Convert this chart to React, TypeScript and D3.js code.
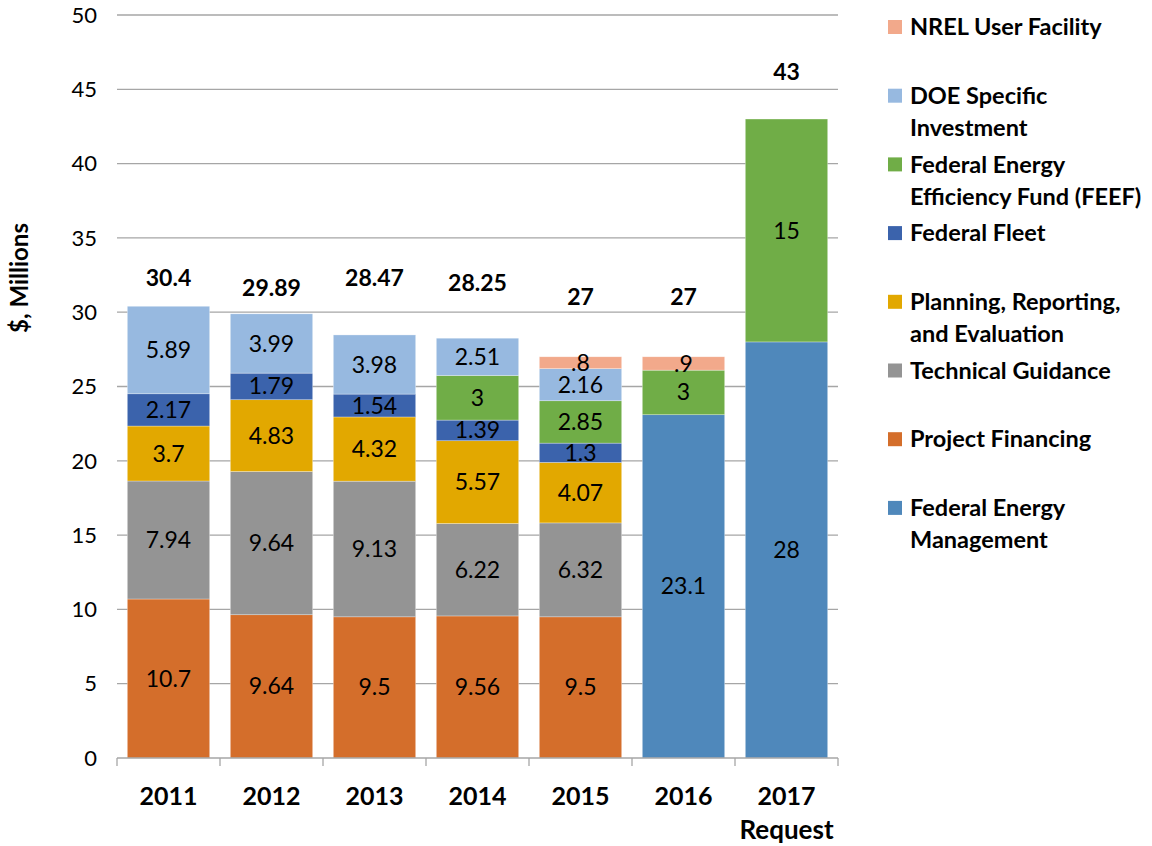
import React from 'react'
import * as d3 from 'd3'

const years = ['2011', '2012', '2013', '2014', '2015', '2016', '2017']

// stack order, bottom to top
const seriesNames = [
  'Federal Energy Management',
  'Project Financing',
  'Technical Guidance',
  'Planning, Reporting, and Evaluation',
  'Federal Fleet',
  'Federal Energy Efficiency Fund (FEEF)',
  'DOE Specific Investment',
  'NREL User Facility'
]
const seriesColors = ['#4f88bb', '#d46e2b', '#949494', '#e2a800', '#3b63ac', '#70ad47', '#97b9e0', '#f2a98b']

const fedEnergyMgmt = [0, 0, 0, 0, 0, 23.1, 28]
const projectFinancing = [10.7, 9.64, 9.5, 9.56, 9.5, 0, 0]
const technicalGuidance = [7.94, 9.64, 9.13, 6.22, 6.32, 0, 0]
const planning = [3.7, 4.83, 4.32, 5.57, 4.07, 0, 0]
const federalFleet = [2.17, 1.79, 1.54, 1.39, 1.3, 0, 0]
const feef = [0, 0, 0, 3, 2.85, 3, 15]
const doeSpecific = [5.89, 3.99, 3.98, 2.51, 2.16, 0, 0]
const nrel = [0, 0, 0, 0, 0.8, 0.9, 0]

// level (in $M) where the total labels sit
const totalLabelLevel = [32.3, 31.6, 32.3, 32.0, 31.0, 31.0, 46.2]

const yTicks = [0, 5, 10, 15, 20, 25, 30, 35, 40, 45, 50]

// legend, top to bottom, with line breaks
const legendLines = [
  ['NREL User Facility'],
  ['DOE Specific', 'Investment'],
  ['Federal Energy', 'Efficiency Fund (FEEF)'],
  ['Federal Fleet'],
  ['Planning, Reporting,', 'and Evaluation'],
  ['Technical Guidance'],
  ['Project Financing'],
  ['Federal Energy', 'Management']
]

const FONT = 'Lato, "Open Sans", sans-serif'

export default function App() {
  const width = 1152
  const height = 846
  const left = 117
  const right = 838
  const top = 15
  const bottom = 758

  const allSeries = [fedEnergyMgmt, projectFinancing, technicalGuidance, planning, federalFleet, feef, doeSpecific, nrel]

  const table = years.map((yr, i) => {
    const row: any = { year: yr }
    seriesNames.forEach((n, k) => (row[n] = allSeries[k][i]))
    return row
  })

  const x = d3.scaleBand().domain(years).range([left, right]).paddingInner(0.2).paddingOuter(0.1)
  const y = d3.scaleLinear().domain([0, 50]).range([bottom, top])

  const stacked = d3.stack<any>().keys(seriesNames)(table)

  const fmt = (v: number) => (v < 1 ? String(v).replace(/^0/, '') : String(v))

  const boundaries = years.map(yr => (x(yr) as number) - (x.step() * x.paddingInner()) / 2)
  boundaries.push(right)

  const legendY0 = 27
  const legendStep = 68.7

  return (
    <svg width={width} height={height} style={{ position: 'absolute', left: 0, top: 0 }} fontFamily={FONT}>
      <rect width={width} height={height} fill="#fff" />

      {/* gridlines */}
      {yTicks.filter(t => t > 0).map(t => (
        <line key={t} x1={left} x2={right} y1={y(t)} y2={y(t)} stroke="#a6a6a6" strokeWidth={1.3} />
      ))}

      {/* y tick labels */}
      {yTicks.map(t => (
        <text key={t} x={97} y={y(t)} dy="0.35em" textAnchor="end" fontSize={22} fill="#000">
          {t}
        </text>
      ))}

      <text transform={`translate(20,278) rotate(-90)`} dy="0.35em" textAnchor="middle" fontSize={24} fontWeight="bold">
        $, Millions
      </text>

      {/* bars */}
      {stacked.map((s, k) => (
        <g key={s.key} fill={seriesColors[k]}>
          {s.map((d, i) =>
            d[1] - d[0] > 0 ? (
              <rect
                key={i}
                x={x(years[i])}
                width={x.bandwidth()}
                y={y(d[1])}
                height={y(d[0]) - y(d[1])}
                stroke="#ffffff"
                strokeOpacity={0.5}
                strokeWidth={0.6}
              />
            ) : null
          )}
        </g>
      ))}

      {/* segment labels */}
      {stacked.map((s, k) =>
        s.map((d, i) => {
          const v = d[1] - d[0]
          if (v <= 0) return null
          return (
            <text
              key={k + '-' + i}
              x={(x(years[i]) as number) + x.bandwidth() / 2}
              y={y((d[0] + d[1]) / 2)}
              dy="0.35em"
              textAnchor="middle"
              fontSize={23}
              fill="#000"
            >
              {fmt(allSeries[k][i])}
            </text>
          )
        })
      )}

      {/* totals */}
      {years.map((yr, i) => {
        const total = d3.sum(allSeries, s => s[i])
        return (
          <text
            key={yr}
            x={(x(yr) as number) + x.bandwidth() / 2}
            y={y(totalLabelLevel[i])}
            dy="0.35em"
            textAnchor="middle"
            fontSize={23}
            fontWeight="bold"
          >
            {Math.round(total * 100) / 100}
          </text>
        )
      })}

      {/* x axis */}
      <line x1={left} x2={right} y1={bottom} y2={bottom} stroke="#a6a6a6" strokeWidth={1.3} />
      {boundaries.map((b, i) => (
        <line key={i} x1={b} x2={b} y1={bottom} y2={bottom + 8} stroke="#a6a6a6" strokeWidth={1.3} />
      ))}
      {years.map(yr => (
        <text key={yr} x={(x(yr) as number) + x.bandwidth() / 2} y={796} dy="0.35em" textAnchor="middle" fontSize={25} fontWeight="bold">
          {yr}
        </text>
      ))}
      <text x={(x('2017') as number) + x.bandwidth() / 2} y={830} dy="0.35em" textAnchor="middle" fontSize={26} fontWeight="bold">
        Request
      </text>

      {/* legend */}
      {legendLines.map((lines, j) => {
        const k = seriesNames.length - 1 - j
        const cy = legendY0 + j * legendStep
        return (
          <g key={j}>
            <rect x={888} y={cy - 7} width={14} height={14} fill={seriesColors[k]} />
            {lines.map((ln, li) => (
              <text key={li} x={910} y={cy + li * 32} dy="0.35em" fontSize={23.5} fontWeight="bold">
                {ln}
              </text>
            ))}
          </g>
        )
      })}
    </svg>
  )
}
